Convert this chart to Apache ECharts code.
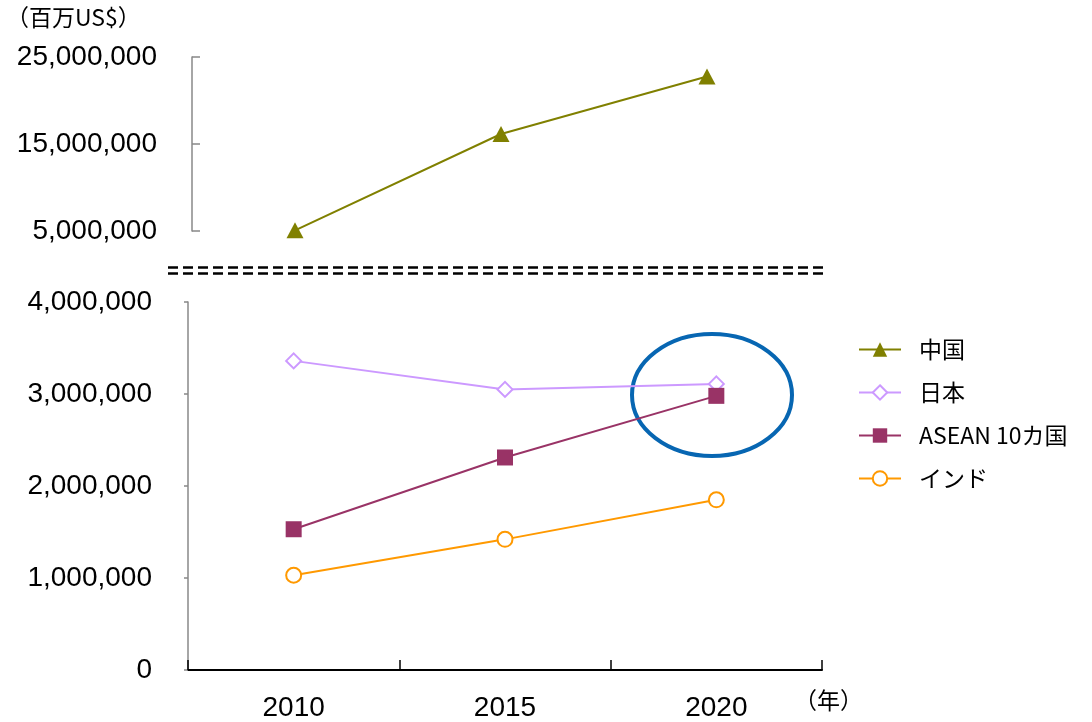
<!DOCTYPE html>
<html>
<head>
<meta charset="utf-8">
<script src="https://cdn.jsdelivr.net/npm/echarts@6/dist/echarts.min.js"></script>
<style>
  html, body { margin: 0; padding: 0; background: #fff; }
  #container { width: 1092px; height: 722px; }
</style>
</head>
<body>
<div id="container"></div>
<script>
// 年
var years = ['2010', '2015', '2020'];
// 百万US$
var china = [5080000, 16150000, 22760000];
var japan = [3360000, 3050000, 3110000];
var asean = [1530000, 2310000, 2980000];
var india = [1030000, 1420000, 1850000];
// 目盛
var upperTicks = [5000000, 15000000, 25000000];
var lowerTicks = [0, 1000000, 2000000, 3000000, 4000000];

var numFont = 'Liberation Sans, Arial, sans-serif';
var jpFont = 'Noto Sans CJK JP, sans-serif';

function fmt(v) {
    return String(v).replace(/\B(?=(\d{3})+(?!\d))/g, ',');
}

var myChart = echarts.init(document.getElementById('container'));
var option = {
    backgroundColor: '#fff',
    animation: false,
    legend: {
        orient: 'vertical',
        left: 853,
        top: 332,
        itemWidth: 42,
        itemHeight: 18,
        itemGap: 18,
        textStyle: { fontFamily: jpFont, fontSize: 23, color: '#000', padding: [0, 0, 0, 13], lineHeight: 25 },
        data: ['中国', '日本', 'ASEAN 10カ国', 'インド']
    },
    grid: [
        { left: 192, right: 282, top: 57, height: 174 },
        { left: 188, right: 270, top: 302, bottom: 51 }
    ],
    xAxis: [
        { type: 'category', gridIndex: 0, data: years, show: false },
        {
            type: 'category', gridIndex: 1, data: years,
            axisLine: { lineStyle: { color: '#000', width: 2 } },
            axisTick: { show: true, inside: true, length: 10, lineStyle: { color: '#000', width: 1.5 } },
            axisLabel: { margin: 24, fontFamily: numFont, fontSize: 28, color: '#000' }
        }
    ],
    yAxis: [
        {
            type: 'value', gridIndex: 0,
            min: upperTicks[0], max: upperTicks[upperTicks.length - 1], interval: 10000000,
            splitLine: { show: false },
            axisLine: { show: true, lineStyle: { color: '#888', width: 1.5 } },
            axisTick: { show: true, inside: true, length: 8, lineStyle: { color: '#888', width: 1.5 } },
            axisLabel: { margin: 35, fontFamily: numFont, fontSize: 28, color: '#000', formatter: fmt }
        },
        {
            type: 'value', gridIndex: 1,
            min: lowerTicks[0], max: lowerTicks[lowerTicks.length - 1], interval: 1000000,
            splitLine: { show: false },
            axisLine: { show: true, lineStyle: { color: '#888', width: 1.5 } },
            axisTick: { show: true, length: 4, lineStyle: { color: '#888', width: 1.5 } },
            axisLabel: { margin: 36, fontFamily: numFont, fontSize: 28, color: '#000', formatter: fmt }
        }
    ],
    series: [
        {
            name: '中国', type: 'line', xAxisIndex: 0, yAxisIndex: 0, data: china,
            color: '#808000', symbol: 'triangle', symbolSize: [17, 16],
            lineStyle: { color: '#808000', width: 2 },
            itemStyle: { color: '#808000' }
        },
        {
            name: '日本', type: 'line', xAxisIndex: 1, yAxisIndex: 1, data: japan,
            color: '#CC99FF', symbol: 'diamond', symbolSize: 15,
            lineStyle: { color: '#CC99FF', width: 2 },
            itemStyle: { color: '#fff', borderColor: '#CC99FF', borderWidth: 2 }
        },
        {
            name: 'ASEAN 10カ国', type: 'line', xAxisIndex: 1, yAxisIndex: 1, data: asean,
            color: '#993366', symbol: 'rect', symbolSize: 16,
            lineStyle: { color: '#993366', width: 2 },
            itemStyle: { color: '#993366' }
        },
        {
            name: 'インド', type: 'line', xAxisIndex: 1, yAxisIndex: 1, data: india,
            color: '#FF9900', symbol: 'circle', symbolSize: 15,
            lineStyle: { color: '#FF9900', width: 2 },
            itemStyle: { color: '#fff', borderColor: '#FF9900', borderWidth: 2 }
        }
    ],
    graphic: [
        { type: 'text', left: 6, top: 6, style: { text: '（百万US$）', font: '23px ' + jpFont, fill: '#000' } },
        { type: 'text', left: 794, top: 689, style: { text: '（年）', font: '23px ' + jpFont, fill: '#000' } },
        { type: 'line', shape: { x1: 168, y1: 267.5, x2: 826, y2: 267.5 }, style: { stroke: '#000', lineWidth: 2.5, lineDash: [10, 5] } },
        { type: 'line', shape: { x1: 168, y1: 273.5, x2: 826, y2: 273.5 }, style: { stroke: '#000', lineWidth: 2.5, lineDash: [10, 5] } },
        { type: 'ellipse', shape: { cx: 712, cy: 395, rx: 80, ry: 61 }, style: { fill: 'none', stroke: '#0766B2', lineWidth: 4 } }
    ]
};

myChart.setOption(option);
</script>
</body>
</html>
